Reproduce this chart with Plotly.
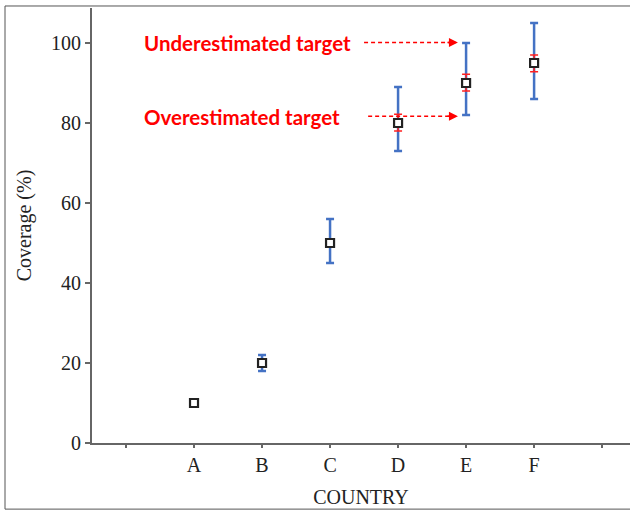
import plotly.graph_objects as go

# ---- data ----
countries = ["A", "B", "C", "D", "E", "F"]
x_pos = [1, 2, 3, 4, 5, 6]
coverage = [10, 20, 50, 80, 90, 95]
blue_plus = [0.8, 2, 6, 9, 10, 10]
blue_minus = [0.8, 2, 5, 7, 8, 9]
red_plus = [0, 0, 0, 2.2, 2.2, 2.0]
red_minus = [0, 0, 0, 2.0, 2.0, 2.2]

tick_vals = [0, 1, 2, 3, 4, 5, 6, 7]
tick_text = [""] + countries + [""]
y_ticks = [0, 20, 40, 60, 80, 100]

labels = ["Underestimated target", "Overestimated target"]
label_x = [0.24, 0.24]
label_y = [100, 81.6]
arrow_x0 = [3.5, 3.56]
arrow_x1 = [4.88, 4.88]
arrow_y = [100.1, 81.7]

fig = go.Figure()

# blue error bars
fig.add_trace(go.Scatter(
    x=x_pos, y=coverage, mode="markers",
    marker=dict(size=1, color="rgba(0,0,0,0)"),
    error_y=dict(type="data", symmetric=False, array=blue_plus, arrayminus=blue_minus,
                 color="#4472C4", thickness=2.5, width=4),
    showlegend=False, hoverinfo="skip"))

# red error bars
fig.add_trace(go.Scatter(
    x=x_pos, y=coverage, mode="markers",
    marker=dict(size=1, color="rgba(0,0,0,0)"),
    error_y=dict(type="data", symmetric=False, array=red_plus, arrayminus=red_minus,
                 color="#FF2020", thickness=1.5, width=4),
    showlegend=False, hoverinfo="skip"))

# markers
fig.add_trace(go.Scatter(
    x=x_pos, y=coverage, mode="markers",
    marker=dict(symbol="square", size=8, color="white",
                line=dict(color="#222222", width=2.2)),
    showlegend=False))

# dashed arrows
for x0, x1, y in zip(arrow_x0, arrow_x1, arrow_y):
    fig.add_shape(type="line", x0=x0, x1=x1 - 0.12, y0=y, y1=y, xref="x", yref="y",
                  line=dict(color="#FF0000", width=1.5, dash="4px,3px"))
    fig.add_annotation(x=x1, y=y, xref="x", yref="y", ax=-12, ay=0,
                       axref="pixel", ayref="pixel", text="", showarrow=True,
                       arrowhead=2, arrowsize=1.2, arrowwidth=1.5, arrowcolor="#FF0000")

for t, x, y in zip(labels, label_x, label_y):
    fig.add_annotation(x=x, y=y, xref="x", yref="y", text="<b>" + t + "</b>",
                       showarrow=False, xanchor="left", yanchor="middle",
                       font=dict(family="Lato", size=20.5, color="#FF0000"))

# outer frame
fig.add_shape(type="rect", xref="paper", yref="paper",
              x0=-0.1617, x1=1.02, y0=-0.152, y1=1.0046,
              line=dict(color="#555555", width=1), layer="above")

serif = "Liberation Serif"
fig.update_layout(
    width=630, height=513,
    margin=dict(l=92, r=0, t=8, b=70),
    paper_bgcolor="white", plot_bgcolor="white",
    font=dict(family=serif, size=20, color="#222222"),
    xaxis=dict(range=[-0.5, 7.41], tickmode="array", tickvals=tick_vals, ticktext=tick_text,
               showgrid=False, zeroline=False, showline=True, linecolor="#666666", linewidth=2,
               ticks="outside", ticklen=3, tickwidth=1.5, tickcolor="#666666",
               title=dict(text="COUNTRY", font=dict(family=serif, size=20), standoff=15),
               tickfont=dict(family=serif, size=20)),
    yaxis=dict(range=[0, 108.75], tickmode="array", tickvals=y_ticks,
               showgrid=False, zeroline=False, showline=True, linecolor="#666666", linewidth=2,
               ticks="outside", ticklen=5, tickwidth=1.5, tickcolor="#666666",
               title=dict(text="Coverage (%)", font=dict(family=serif, size=20), standoff=14),
               tickfont=dict(family=serif, size=20)),
)

fig.write_html("out.html")
